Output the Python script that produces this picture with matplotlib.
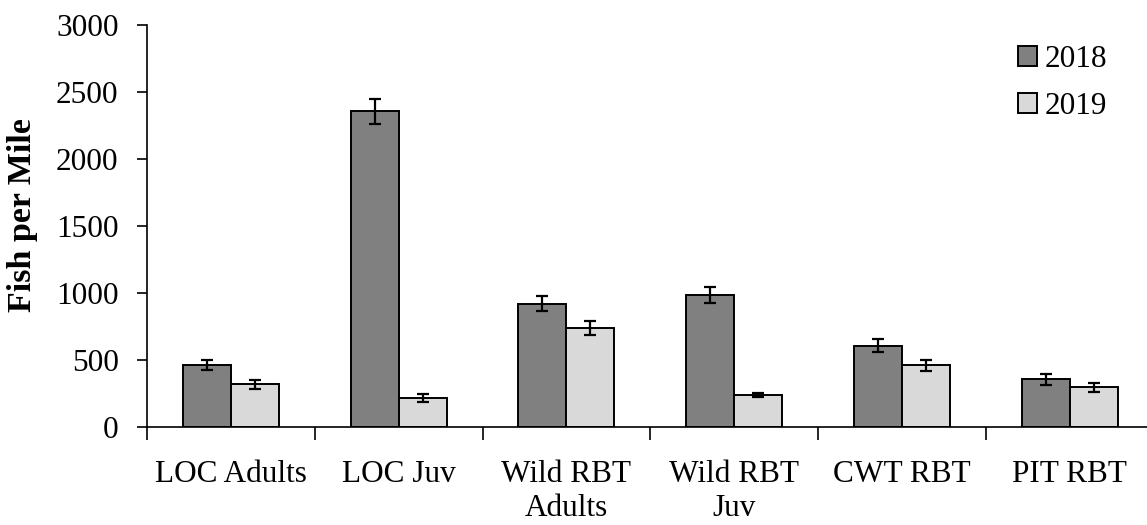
import numpy as np
import matplotlib.pyplot as plt

plt.rcParams['font.family'] = ['Liberation Serif', 'DejaVu Serif']

groups = ['LOC Adults', 'LOC Juv', 'Wild RBT\nAdults', 'Wild RBT\nJuv', 'CWT RBT', 'PIT RBT']
fish_2018 = [465, 2355, 920, 983, 606, 355]
err_2018 = [38, 96, 58, 60, 47, 38]
fish_2019 = [318, 214, 739, 239, 462, 296]
err_2019 = [32, 30, 51, 17, 41, 35]

W, H = 1147, 525
fig = plt.figure(figsize=(W / 100, H / 100), dpi=100)
ax = fig.add_axes([147 / W, 98 / H, 1006.5 / W, 402 / H])

x = np.arange(len(groups)) + 0.5
bw = 0.286
ekw = dict(ecolor='black', elinewidth=1.6, capsize=4.5, capthick=1.6)
ax.bar(x - bw / 2, fish_2018, bw, yerr=err_2018, color='#808080',
       edgecolor='black', linewidth=1.4, label='2018', error_kw=ekw, zorder=2)
ax.bar(x + bw / 2, fish_2019, bw, yerr=err_2019, color='#d9d9d9',
       edgecolor='black', linewidth=1.4, label='2019', error_kw=ekw, zorder=2)

ax.set_xlim(0, len(groups))
ax.set_ylim(0, 3000)
ax.set_yticks(np.arange(0, 3001, 500))
ax.set_xticks(x)
ax.set_xticklabels(groups)
ax.set_xticks(np.arange(0, len(groups) + 1), minor=True)
ax.tick_params(axis='x', which='major', length=0, pad=24, labelsize=22.5)
ax.tick_params(axis='x', which='minor', length=9, width=1.2, direction='out')
ax.tick_params(axis='y', length=7, width=1.2, pad=13.5, labelsize=22.5)

for side in ['top', 'right']:
    ax.spines[side].set_visible(False)
for side in ['left', 'bottom']:
    ax.spines[side].set_linewidth(1.2)

fig.text(22 / W, 1 - 215 / H, 'Fish per Mile', rotation=90, ha='center',
         va='center', fontsize=24.5, fontweight='bold')

ax.legend(loc='upper right', bbox_to_anchor=(1107 / W, 1 - 45 / H),
          bbox_transform=fig.transFigure, frameon=False, fontsize=22.5,
          handlelength=0.6, handleheight=0.6, handletextpad=0.25,
          labelspacing=0.58, borderpad=0, borderaxespad=0)

fig.savefig('out.png', dpi=100)
